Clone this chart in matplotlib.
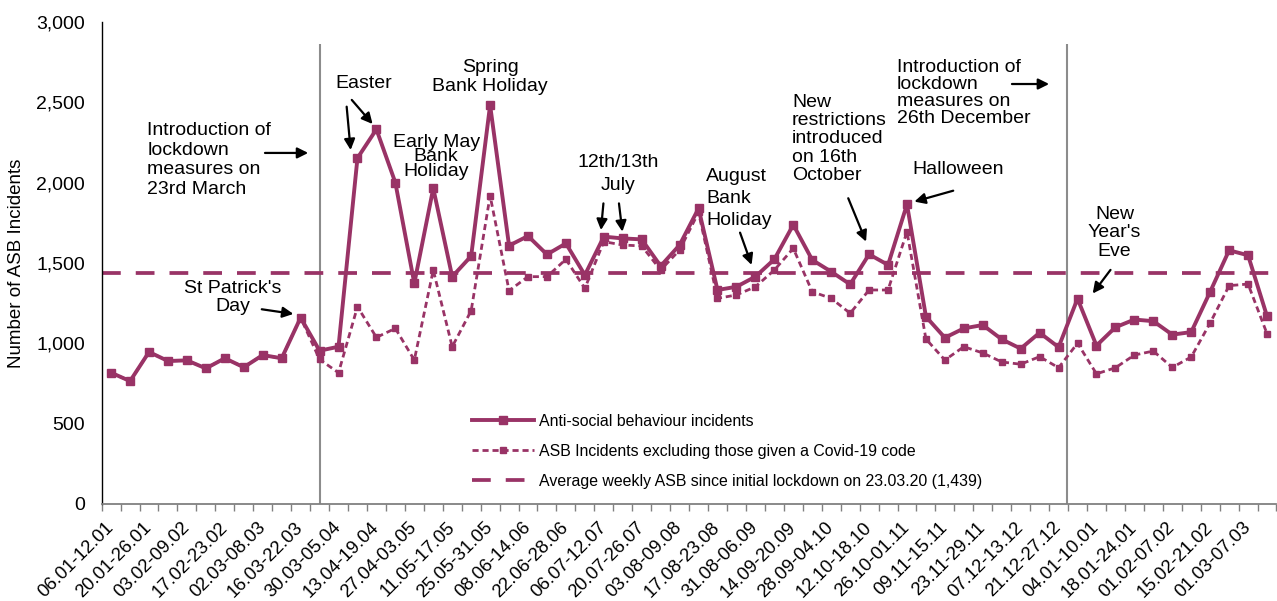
import matplotlib
matplotlib.use("Agg")
import matplotlib.pyplot as plt
from matplotlib.ticker import FuncFormatter, FixedLocator

plt.rcParams['font.family'] = ['Liberation Sans', 'DejaVu Sans']

weeks = [
    "06.01-12.01", "13.01-19.01", "20.01-26.01", "27.01-02.02", "03.02-09.02",
    "10.02-16.02", "17.02-23.02", "24.02-01.03", "02.03-08.03", "09.03-15.03",
    "16.03-22.03", "23.03-29.03", "30.03-05.04", "06.04-12.04", "13.04-19.04",
    "20.04-26.04", "27.04-03.05", "04.05-10.05", "11.05-17.05", "18.05-24.05",
    "25.05-31.05", "01.06-07.06", "08.06-14.06", "15.06-21.06", "22.06-28.06",
    "29.06-05.07", "06.07-12.07", "13.07-19.07", "20.07-26.07", "27.07-02.08",
    "03.08-09.08", "10.08-16.08", "17.08-23.08", "24.08-30.08", "31.08-06.09",
    "07.09-13.09", "14.09-20.09", "21.09-27.09", "28.09-04.10", "05.10-11.10",
    "12.10-18.10", "19.10-25.10", "26.10-01.11", "02.11-08.11", "09.11-15.11",
    "16.11-22.11", "23.11-29.11", "30.11-06.12", "07.12-13.12", "14.12-20.12",
    "21.12-27.12", "28.12-03.01", "04.01-10.01", "11.01-17.01", "18.01-24.01",
    "25.01-31.01", "01.02-07.02", "08.02-14.02", "15.02-21.02", "22.02-28.02",
    "01.03-07.03", "08.03-14.03",
]

asb_all = [
    817, 765, 946, 890, 894, 844, 907, 851, 927, 907,
    1160, 954, 979, 2153, 2332, 2000, 1373, 1965, 1415, 1543,
    2483, 1608, 1668, 1553, 1622, 1425, 1664, 1653, 1647, 1481,
    1612, 1840, 1332, 1352, 1415, 1523, 1738, 1519, 1446, 1367,
    1554, 1488, 1865, 1166, 1035, 1093, 1114, 1025, 967, 1066,
    976, 1278, 986, 1100, 1148, 1138, 1054, 1070, 1321, 1579,
    1548, 1169,
]

asb_excl_covid = [
    817, 765, 946, 890, 894, 844, 907, 851, 927, 907,
    1160, 900, 817, 1228, 1037, 1093, 896, 1456, 979, 1203,
    1919, 1328, 1415, 1415, 1523, 1342, 1633, 1612, 1606, 1456,
    1581, 1815, 1280, 1301, 1352, 1456, 1591, 1321, 1280, 1187,
    1332, 1332, 1695, 1027, 896, 979, 940, 884, 870, 917,
    848, 1001, 810, 848, 927, 952, 850, 915, 1127, 1359,
    1369, 1060,
]

average_since_lockdown = 1439
lockdown_weeks = [11, 50.45]

COL = '#993366'

fig = plt.figure(figsize=(12.77, 6.01), dpi=100)
ax = fig.add_axes([0.0796, 0.1614, 0.9200, 0.8020])

x = list(range(len(weeks)))

ax.vlines(lockdown_weeks, 0, 2860, color='#8c8c8c', lw=1.5, zorder=1)

ax.plot(x, asb_all, color=COL, lw=2.8, marker='s', markersize=5.5,
        label='Anti-social behaviour incidents', zorder=4)
ax.plot(x, asb_excl_covid, color=COL, lw=2.0, marker='s', markersize=4.8,
        linestyle=(0, (2.2, 1.4)),
        label='ASB Incidents excluding those given a Covid-19 code', zorder=3)
ax.axhline(average_since_lockdown, color=COL, lw=2.7, linestyle=(0, (5, 4)),
           label='Average weekly ASB since initial lockdown on 23.03.20 (1,439)',
           zorder=2)

ax.set_xlim(-0.5, len(weeks) - 0.5)
ax.set_ylim(0, 3000)

ax.set_yticks(range(0, 3001, 500))
ax.yaxis.set_major_formatter(FuncFormatter(lambda v, p: f"{int(v):,}"))
ax.tick_params(axis='y', length=0, pad=12, labelsize=14)

ax.xaxis.set_major_locator(FixedLocator(x[::2]))
ax.set_xticklabels(weeks[::2])
ax.xaxis.set_minor_locator(FixedLocator([i - 0.5 for i in range(len(weeks) + 1)]))
ax.tick_params(axis='x', which='major', length=0, pad=15, labelsize=13.3)
ax.tick_params(axis='x', which='minor', length=5, width=1, color='#808080', direction='out')
for lab in ax.get_xticklabels():
    lab.set_rotation(45)
    lab.set_ha('right')
    lab.set_va('center')
    lab.set_rotation_mode('anchor')

for s in ['top', 'right']:
    ax.spines[s].set_visible(False)
ax.spines['left'].set_color('black')
ax.spines['left'].set_linewidth(1.0)
ax.spines['bottom'].set_color('#808080')
ax.spines['bottom'].set_linewidth(1.3)

ax.set_ylabel('Number of ASB Incidents', fontsize=13.5, labelpad=8)

FS = 14
arrow = dict(arrowstyle='-|>', color='black', lw=1.6, mutation_scale=16,
             shrinkA=0, shrinkB=0)

def note(text, xy, **kw):
    ax.text(xy[0], xy[1], text, fontsize=FS, zorder=6, **kw)

def arr(start, end):
    ax.annotate('', xy=end, xytext=start, arrowprops=arrow, zorder=6)

note("Introduction of\nlockdown\nmeasures on\n23rd March", (1.9, 2141),
     ha='left', va='center', linespacing=1.2)
arr((8.12, 2185), (10.4, 2185))

note("Easter", (13.35, 2620), ha='center', va='center')
arr((12.43, 2473), (12.64, 2203))
arr((12.7, 2515), (13.8, 2365))

note("Early May\nBank\nHoliday", (17.15, 2162), ha='center', va='center', linespacing=0.8)

note("Spring\nBank Holiday", (20.0, 2658), ha='center', va='center', linespacing=1.2)

note("12th/13th\nJuly", (26.76, 2054), ha='center', va='center', linespacing=1.45)
arr((25.98, 1871), (25.85, 1705))
arr((26.8, 1871), (26.98, 1695))

note("August\nBank\nHoliday", (31.4, 1903), ha='left', va='center', linespacing=1.4)
arr((33.19, 1689), (33.8, 1488))

note("New\nrestrictions\nintroduced\non 16th\nOctober", (35.93, 2272),
     ha='left', va='center', linespacing=1.1)
arr((38.9, 1903), (39.84, 1633))

note("Halloween", (44.69, 2083), ha='center', va='center')
arr((44.44, 1950), (42.39, 1882))

note("Introduction of\nlockdown\nmeasures on\n26th December", (41.47, 2561),
     ha='left', va='center', linespacing=1.0)
arr((47.54, 2614), (49.5, 2614))

note("New\nYear's\nEve", (52.96, 1687), ha='center', va='center', linespacing=1.15)
arr((52.74, 1457), (51.8, 1310))

note("St Patrick's\nDay", (6.4, 1288), ha='center', va='center', linespacing=1.07)
arr((7.95, 1212), (9.62, 1183))

ax.legend(loc='upper left', bbox_to_anchor=(0.31, 0.2), frameon=False,
          fontsize=11.4, handlelength=3.9, labelspacing=0.95, handletextpad=0.3,
          borderaxespad=0)

fig.savefig('out.png', dpi=100)
